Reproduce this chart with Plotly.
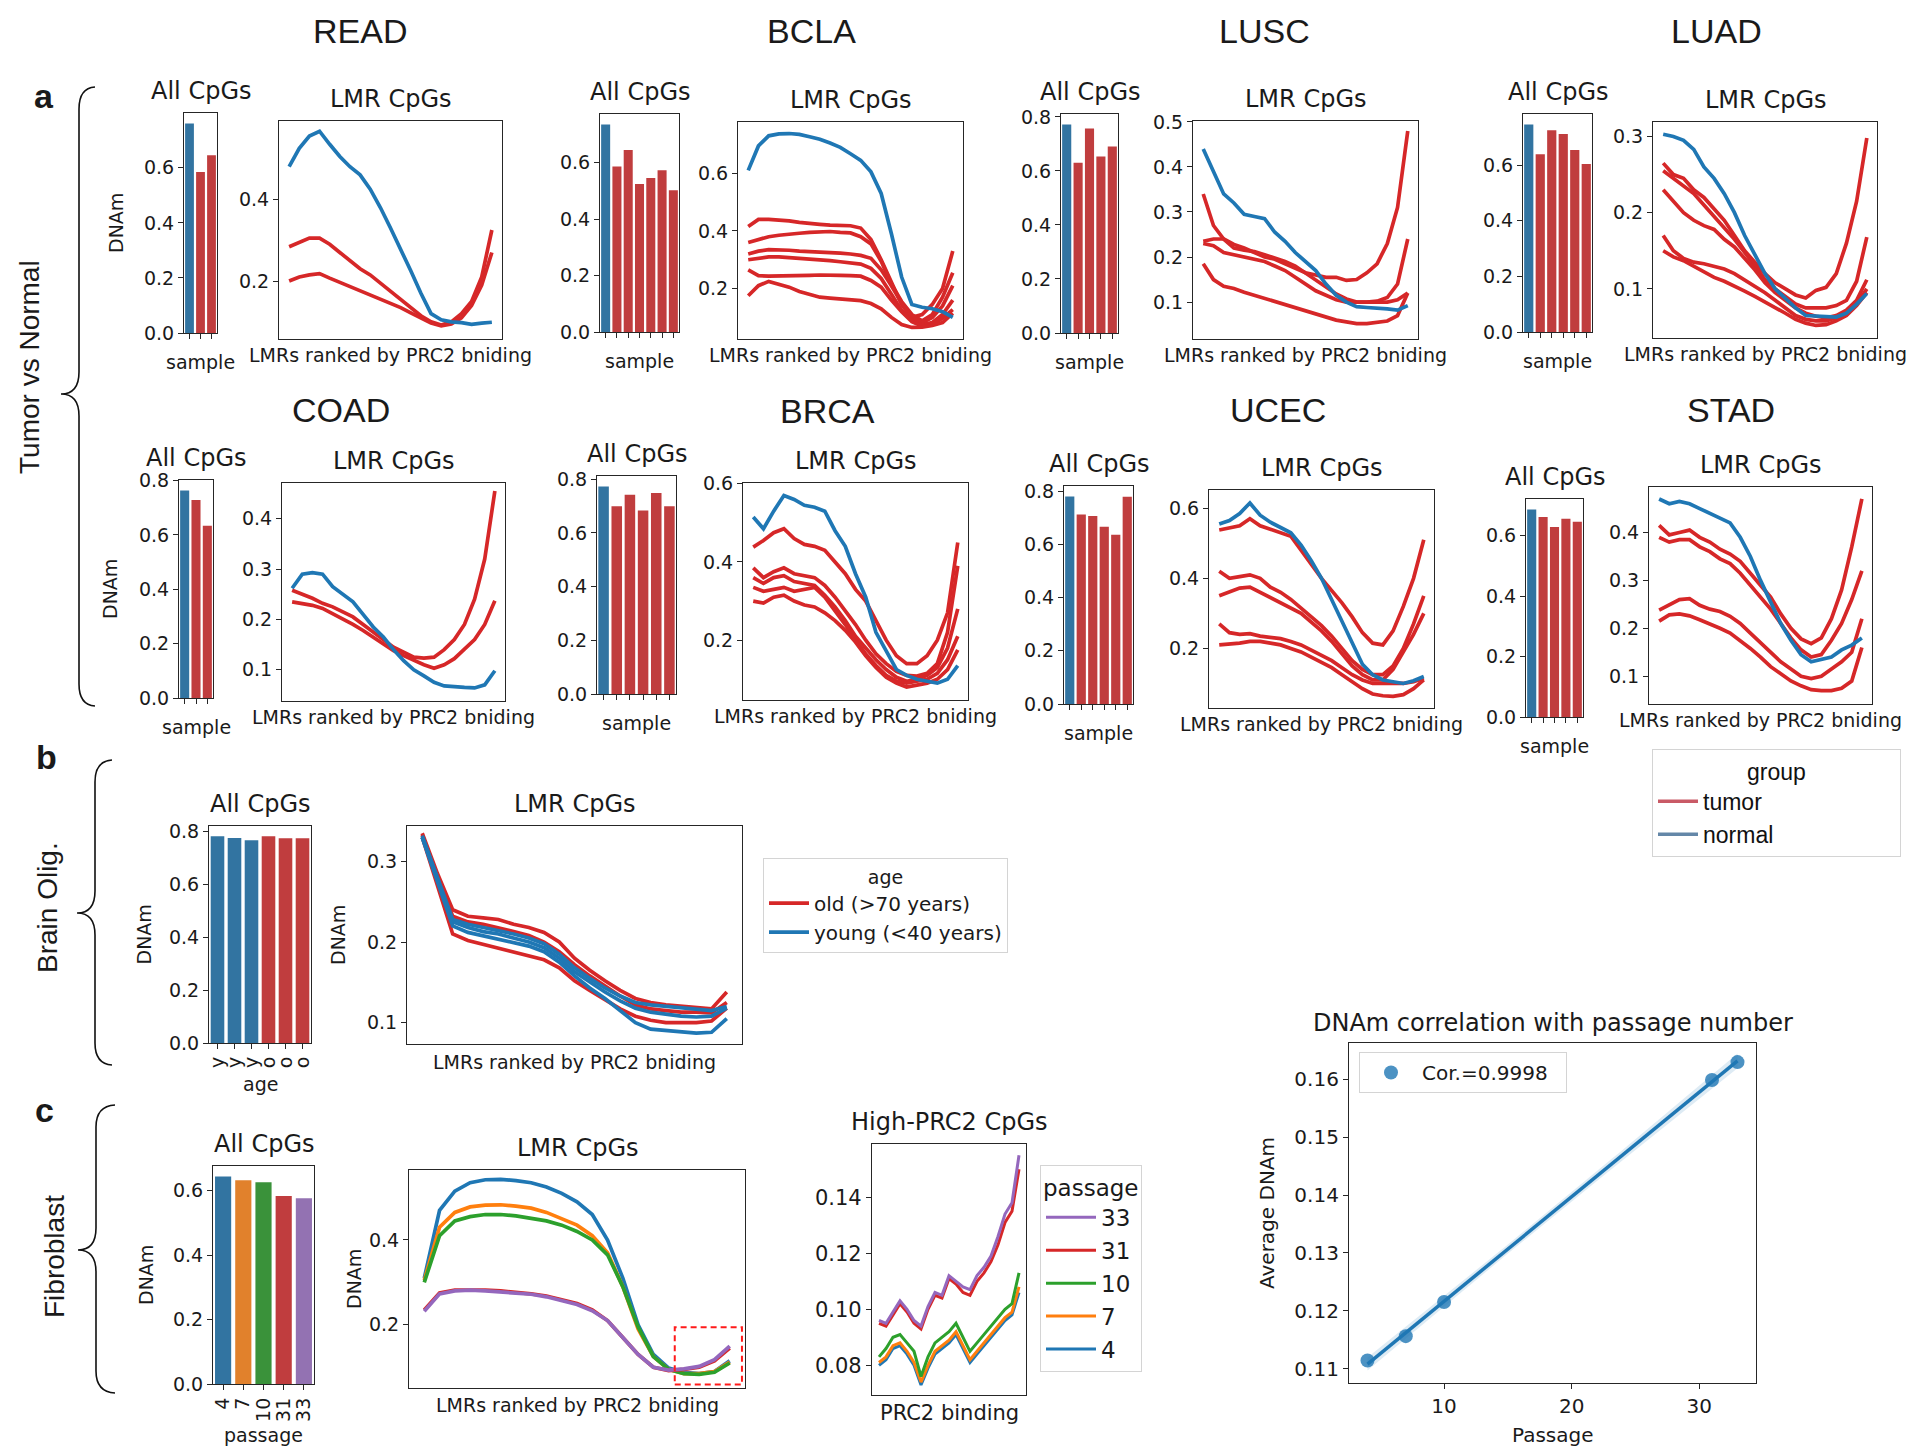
import numpy as np
import plotly.graph_objects as go

W, H = 1918, 1446
FONT = "DejaVu Sans"
ARIAL = "Liberation Sans, Arial, sans-serif"
TXT = "#1a1a1a"
LINE = "#262626"
RED_L, BLUE_L = "#d62728", "#1f77b4"
RED_B, BLUE_B = "#c03d3e", "#3274a1"
RED_LEG, BLUE_LEG = "#c95a66", "#6487a8"
FIB_L = ["#1f77b4", "#ff7f0e", "#2ca02c", "#d62728", "#9467bd"]
FIB_B = ["#3274a1", "#e1812c", "#3a923a", "#c03d3e", "#9372b2"]

# ---------------- data ----------------
LMR_X = [0, 5, 10, 15, 20, 25, 30, 35, 40, 45, 50, 55, 60, 65, 70, 75, 80, 85, 90, 95, 100]

READ_BAR = [0.761, 0.585, 0.646]
READ_NORMAL = [0.48, 0.525, 0.555, 0.567, 0.535, 0.505, 0.48, 0.46, 0.425, 0.38, 0.33, 0.28, 0.225, 0.17, 0.12, 0.105, 0.10, 0.098, 0.094, 0.097, 0.099]
READ_TUMOR = [
    [0.284, 0.295, 0.305, 0.305, 0.29, 0.27, 0.25, 0.23, 0.215, 0.195, 0.175, 0.155, 0.135, 0.115, 0.10, 0.092, 0.10, 0.12, 0.15, 0.21, 0.325],
    [0.20, 0.21, 0.215, 0.218, 0.207, 0.197, 0.187, 0.177, 0.167, 0.157, 0.145, 0.135, 0.122, 0.11, 0.097, 0.09, 0.095, 0.11, 0.14, 0.19, 0.27],
]

BCLA_BAR = [0.735, 0.586, 0.644, 0.524, 0.545, 0.573, 0.502]
BCLA_NORMAL = [0.61, 0.695, 0.73, 0.737, 0.738, 0.735, 0.727, 0.718, 0.705, 0.69, 0.668, 0.645, 0.605, 0.53, 0.39, 0.24, 0.145, 0.135, 0.13, 0.12, 0.10]
BCLA_TUMOR = [
    [0.415, 0.44, 0.44, 0.438, 0.435, 0.43, 0.425, 0.423, 0.42, 0.418, 0.418, 0.41, 0.37, 0.30, 0.22, 0.145, 0.10, 0.11, 0.145, 0.20, 0.33],
    [0.36, 0.37, 0.38, 0.385, 0.39, 0.392, 0.395, 0.397, 0.398, 0.395, 0.393, 0.38, 0.355, 0.295, 0.215, 0.155, 0.11, 0.088, 0.11, 0.17, 0.255],
    [0.32, 0.33, 0.335, 0.335, 0.333, 0.33, 0.329, 0.328, 0.326, 0.323, 0.32, 0.315, 0.305, 0.265, 0.21, 0.15, 0.10, 0.082, 0.10, 0.14, 0.21],
    [0.30, 0.305, 0.31, 0.31, 0.308, 0.305, 0.302, 0.30, 0.297, 0.293, 0.29, 0.285, 0.27, 0.235, 0.18, 0.125, 0.09, 0.075, 0.082, 0.11, 0.16],
    [0.265, 0.245, 0.243, 0.243, 0.243, 0.244, 0.246, 0.247, 0.248, 0.246, 0.245, 0.243, 0.228, 0.205, 0.16, 0.12, 0.085, 0.07, 0.075, 0.097, 0.127],
    [0.175, 0.21, 0.225, 0.215, 0.205, 0.19, 0.18, 0.17, 0.167, 0.165, 0.163, 0.158, 0.148, 0.13, 0.10, 0.075, 0.065, 0.066, 0.072, 0.082, 0.115],
]

LUSC_BAR = [0.772, 0.630, 0.757, 0.653, 0.690]
LUSC_NORMAL = [0.44, 0.39, 0.34, 0.32, 0.295, 0.29, 0.285, 0.255, 0.235, 0.21, 0.19, 0.17, 0.14, 0.115, 0.10, 0.09, 0.088, 0.087, 0.085, 0.082, 0.092]
LUSC_TUMOR = [
    [0.34, 0.27, 0.24, 0.228, 0.22, 0.21, 0.20, 0.195, 0.185, 0.175, 0.165, 0.16, 0.155, 0.155, 0.148, 0.15, 0.165, 0.185, 0.23, 0.31, 0.48],
    [0.235, 0.24, 0.24, 0.22, 0.215, 0.212, 0.205, 0.198, 0.19, 0.18, 0.165, 0.15, 0.135, 0.118, 0.107, 0.10, 0.10, 0.102, 0.11, 0.14, 0.24],
    [0.23, 0.225, 0.21, 0.205, 0.20, 0.195, 0.19, 0.18, 0.17, 0.155, 0.14, 0.125, 0.115, 0.105, 0.10, 0.10, 0.098, 0.10, 0.10, 0.105, 0.12],
    [0.185, 0.15, 0.135, 0.13, 0.122, 0.115, 0.108, 0.10, 0.093, 0.087, 0.08, 0.073, 0.067, 0.06, 0.056, 0.052, 0.052, 0.055, 0.058, 0.07, 0.12],
]

LUAD_BAR = [0.746, 0.639, 0.725, 0.711, 0.654, 0.604]
LUAD_NORMAL = [0.303, 0.30, 0.295, 0.283, 0.26, 0.245, 0.225, 0.20, 0.17, 0.145, 0.12, 0.10, 0.087, 0.075, 0.065, 0.064, 0.063, 0.063, 0.068, 0.08, 0.094]
LUAD_TUMOR = [
    [0.265, 0.25, 0.245, 0.23, 0.22, 0.205, 0.19, 0.17, 0.15, 0.135, 0.12, 0.108, 0.10, 0.092, 0.088, 0.098, 0.102, 0.12, 0.16, 0.215, 0.298],
    [0.255, 0.245, 0.235, 0.225, 0.21, 0.195, 0.18, 0.165, 0.148, 0.13, 0.112, 0.10, 0.09, 0.08, 0.075, 0.075, 0.075, 0.078, 0.085, 0.11, 0.168],
    [0.23, 0.215, 0.20, 0.19, 0.183, 0.178, 0.165, 0.155, 0.14, 0.125, 0.108, 0.095, 0.085, 0.075, 0.068, 0.064, 0.062, 0.065, 0.072, 0.085, 0.112],
    [0.17, 0.15, 0.14, 0.135, 0.133, 0.13, 0.126, 0.12, 0.112, 0.103, 0.095, 0.085, 0.075, 0.065, 0.06, 0.058, 0.058, 0.062, 0.07, 0.08, 0.10],
    [0.15, 0.142, 0.137, 0.13, 0.122, 0.115, 0.11, 0.104, 0.097, 0.09, 0.083, 0.075, 0.068, 0.06, 0.055, 0.052, 0.053, 0.058, 0.065, 0.078, 0.095],
]

COAD_BAR = [0.764, 0.729, 0.634]
COAD_NORMAL = [0.262, 0.29, 0.293, 0.29, 0.265, 0.25, 0.235, 0.21, 0.185, 0.165, 0.14, 0.118, 0.10, 0.088, 0.075, 0.068, 0.066, 0.065, 0.064, 0.07, 0.098]
COAD_TUMOR = [
    [0.258, 0.25, 0.242, 0.232, 0.225, 0.215, 0.205, 0.19, 0.175, 0.16, 0.145, 0.135, 0.125, 0.123, 0.125, 0.14, 0.16, 0.19, 0.24, 0.32, 0.455],
    [0.235, 0.232, 0.228, 0.222, 0.212, 0.20, 0.19, 0.178, 0.165, 0.15, 0.138, 0.128, 0.118, 0.11, 0.103, 0.11, 0.122, 0.14, 0.16, 0.19, 0.237],
]

BRCA_BAR = [0.773, 0.699, 0.742, 0.683, 0.748, 0.699]
BRCA_NORMAL = [0.515, 0.485, 0.53, 0.57, 0.56, 0.545, 0.54, 0.53, 0.48, 0.44, 0.37, 0.31, 0.22, 0.17, 0.125, 0.11, 0.10, 0.095, 0.09, 0.10, 0.135]
BRCA_TUMOR = [
    [0.438, 0.455, 0.475, 0.485, 0.46, 0.445, 0.44, 0.43, 0.40, 0.37, 0.33, 0.30, 0.25, 0.20, 0.16, 0.14, 0.14, 0.16, 0.20, 0.27, 0.45],
    [0.385, 0.36, 0.375, 0.385, 0.37, 0.365, 0.36, 0.34, 0.31, 0.275, 0.24, 0.20, 0.165, 0.14, 0.12, 0.11, 0.108, 0.115, 0.14, 0.22, 0.39],
    [0.36, 0.345, 0.36, 0.365, 0.35, 0.345, 0.34, 0.315, 0.285, 0.25, 0.21, 0.18, 0.15, 0.125, 0.105, 0.095, 0.10, 0.11, 0.13, 0.18, 0.28],
    [0.335, 0.325, 0.33, 0.335, 0.325, 0.33, 0.335, 0.31, 0.275, 0.24, 0.20, 0.165, 0.135, 0.11, 0.095, 0.09, 0.095, 0.10, 0.115, 0.15, 0.21],
    [0.30, 0.295, 0.31, 0.315, 0.30, 0.29, 0.285, 0.27, 0.25, 0.225, 0.195, 0.16, 0.13, 0.105, 0.09, 0.08, 0.085, 0.09, 0.10, 0.125, 0.175],
]

UCEC_BAR = [0.781, 0.713, 0.707, 0.667, 0.637, 0.780]
UCEC_NORMAL = [0.555, 0.565, 0.585, 0.615, 0.58, 0.56, 0.545, 0.53, 0.495, 0.45, 0.40, 0.34, 0.28, 0.215, 0.155, 0.125, 0.11, 0.105, 0.10, 0.108, 0.12]
UCEC_TUMOR = [
    [0.538, 0.545, 0.55, 0.57, 0.55, 0.54, 0.53, 0.52, 0.48, 0.44, 0.40, 0.365, 0.33, 0.29, 0.245, 0.215, 0.21, 0.25, 0.32, 0.40, 0.51],
    [0.42, 0.40, 0.405, 0.41, 0.40, 0.375, 0.36, 0.34, 0.315, 0.29, 0.265, 0.235, 0.20, 0.165, 0.14, 0.125, 0.125, 0.15, 0.20, 0.27, 0.35],
    [0.35, 0.36, 0.372, 0.375, 0.36, 0.345, 0.33, 0.315, 0.30, 0.275, 0.25, 0.22, 0.185, 0.15, 0.125, 0.11, 0.11, 0.14, 0.19, 0.24, 0.30],
    [0.27, 0.245, 0.24, 0.242, 0.235, 0.232, 0.228, 0.22, 0.21, 0.195, 0.18, 0.165, 0.145, 0.125, 0.11, 0.10, 0.10, 0.10, 0.10, 0.105, 0.115],
    [0.21, 0.212, 0.215, 0.22, 0.22, 0.215, 0.21, 0.20, 0.19, 0.175, 0.16, 0.145, 0.125, 0.105, 0.085, 0.07, 0.065, 0.063, 0.068, 0.085, 0.11],
]

STAD_BAR = [0.687, 0.662, 0.629, 0.656, 0.646]
STAD_NORMAL = [0.47, 0.46, 0.465, 0.46, 0.45, 0.44, 0.43, 0.42, 0.39, 0.35, 0.30, 0.255, 0.21, 0.175, 0.145, 0.13, 0.135, 0.14, 0.155, 0.165, 0.18]
STAD_TUMOR = [
    [0.415, 0.395, 0.40, 0.405, 0.39, 0.38, 0.365, 0.355, 0.34, 0.315, 0.29, 0.265, 0.23, 0.20, 0.178, 0.168, 0.18, 0.22, 0.28, 0.37, 0.47],
    [0.39, 0.38, 0.385, 0.385, 0.37, 0.36, 0.345, 0.335, 0.315, 0.29, 0.265, 0.24, 0.21, 0.18, 0.155, 0.14, 0.145, 0.175, 0.21, 0.26, 0.32],
    [0.238, 0.25, 0.26, 0.262, 0.248, 0.24, 0.235, 0.225, 0.21, 0.19, 0.17, 0.148, 0.13, 0.115, 0.10, 0.095, 0.10, 0.115, 0.13, 0.15, 0.22],
    [0.215, 0.228, 0.23, 0.226, 0.218, 0.21, 0.20, 0.19, 0.175, 0.158, 0.14, 0.12, 0.105, 0.09, 0.08, 0.072, 0.07, 0.07, 0.075, 0.09, 0.16],
]
GROUP_NAMES = ["tumor", "normal"]

# panel b: brain oligodendrocytes
BRAIN_AGE_TICKS = ["y", "y", "y", "o", "o", "o"]
BRAIN_BAR = [0.781, 0.775, 0.766, 0.781, 0.774, 0.774]
BRAIN_OLD = [
    [0.335, 0.285, 0.24, 0.232, 0.23, 0.228, 0.222, 0.218, 0.212, 0.20, 0.18, 0.165, 0.152, 0.14, 0.13, 0.125, 0.122, 0.12, 0.118, 0.117, 0.138],
    [0.333, 0.28, 0.232, 0.225, 0.222, 0.218, 0.213, 0.208, 0.20, 0.188, 0.172, 0.158, 0.145, 0.133, 0.122, 0.117, 0.115, 0.113, 0.113, 0.112, 0.125],
    [0.33, 0.27, 0.21, 0.202, 0.197, 0.192, 0.187, 0.183, 0.178, 0.168, 0.152, 0.14, 0.128, 0.117, 0.108, 0.103, 0.10, 0.10, 0.10, 0.102, 0.118],
]
BRAIN_YOUNG = [
    [0.332, 0.28, 0.228, 0.222, 0.218, 0.215, 0.21, 0.205, 0.198, 0.185, 0.168, 0.155, 0.143, 0.133, 0.125, 0.122, 0.12, 0.118, 0.116, 0.115, 0.12],
    [0.33, 0.278, 0.225, 0.218, 0.213, 0.21, 0.205, 0.20, 0.193, 0.18, 0.163, 0.15, 0.138, 0.127, 0.118, 0.113, 0.11, 0.108, 0.107, 0.108, 0.118],
    [0.33, 0.275, 0.22, 0.212, 0.208, 0.204, 0.199, 0.195, 0.188, 0.175, 0.158, 0.143, 0.13, 0.115, 0.10, 0.092, 0.09, 0.088, 0.087, 0.088, 0.105],
]

# panel c: fibroblast passages
PASSAGES = ["4", "7", "10", "31", "33"]
FIB_BAR = [0.644, 0.632, 0.626, 0.583, 0.576]
FIB_LMR = [
    [0.31, 0.47, 0.515, 0.535, 0.542, 0.543, 0.54, 0.535, 0.525, 0.51, 0.49, 0.46, 0.40, 0.31, 0.20, 0.13, 0.098, 0.088, 0.085, 0.09, 0.115],
    [0.305, 0.43, 0.465, 0.478, 0.482, 0.483, 0.48, 0.475, 0.465, 0.45, 0.435, 0.41, 0.37, 0.29, 0.19, 0.125, 0.095, 0.085, 0.085, 0.09, 0.112],
    [0.30, 0.41, 0.445, 0.455, 0.46, 0.46, 0.457, 0.452, 0.445, 0.435, 0.42, 0.40, 0.365, 0.29, 0.195, 0.125, 0.095, 0.085, 0.083, 0.088, 0.11],
    [0.235, 0.275, 0.282, 0.283, 0.282, 0.28, 0.277, 0.273, 0.268, 0.26, 0.25, 0.235, 0.21, 0.17, 0.13, 0.10, 0.092, 0.095, 0.10, 0.115, 0.145],
    [0.232, 0.273, 0.28, 0.282, 0.28, 0.278, 0.275, 0.272, 0.266, 0.258, 0.248, 0.233, 0.21, 0.17, 0.13, 0.10, 0.093, 0.096, 0.102, 0.118, 0.15],
]
FIB_HIGH = [
    [0.08, 0.082, 0.086, 0.087, 0.084, 0.08, 0.073, 0.079, 0.084, 0.086, 0.088, 0.091, 0.086, 0.081, 0.084, 0.087, 0.09, 0.093, 0.096, 0.098, 0.106],
    [0.081, 0.083, 0.087, 0.088, 0.085, 0.081, 0.074, 0.08, 0.085, 0.087, 0.089, 0.092, 0.087, 0.082, 0.085, 0.088, 0.091, 0.094, 0.097, 0.099, 0.108],
    [0.083, 0.086, 0.09, 0.091, 0.088, 0.085, 0.076, 0.083, 0.088, 0.09, 0.092, 0.095, 0.09, 0.085, 0.088, 0.091, 0.094, 0.097, 0.10, 0.102, 0.113],
    [0.095, 0.094, 0.098, 0.102, 0.099, 0.095, 0.093, 0.10, 0.105, 0.104, 0.111, 0.109, 0.106, 0.105, 0.11, 0.113, 0.117, 0.123, 0.131, 0.135, 0.15],
    [0.096, 0.095, 0.099, 0.103, 0.10, 0.096, 0.094, 0.101, 0.106, 0.105, 0.112, 0.11, 0.108, 0.107, 0.112, 0.115, 0.119, 0.126, 0.134, 0.138, 0.155],
]
PASSAGE_NUM = [4, 7, 10, 31, 33]
AVG_DNAM = [0.1114, 0.1156, 0.1215, 0.1599, 0.1630]
COR_LABEL = "Cor.=0.9998"

# ---------------- figure helpers ----------------
fig = go.Figure()
_ax = [0]


def px_x(v):
    return v / W


def px_y(v):
    return 1 - v / H


def new_axes(box, xr, yr, xkw=None, ykw=None, tsize=19):
    _ax[0] += 1
    n = _ax[0]
    sx = "" if n == 1 else str(n)
    x0, x1, y0, y1 = box
    base = dict(showline=True, mirror=True, linecolor=LINE, linewidth=1.2,
                showgrid=False, zeroline=False, ticks="outside", ticklen=5,
                tickwidth=1.2, tickcolor=LINE, fixedrange=True, automargin=False,
                tickfont=dict(family=FONT, size=tsize, color=TXT))
    xa = dict(base, domain=[px_x(x0), px_x(x1)], range=xr, anchor="y" + sx)
    ya = dict(base, domain=[px_y(y1), px_y(y0)], range=yr, anchor="x" + sx)
    if xkw:
        xa.update(xkw)
    if ykw:
        ya.update(ykw)
    fig.update_layout({"xaxis" + sx: xa, "yaxis" + sx: ya})
    return "x" + sx, "y" + sx


def text(x, y, s, size, family=FONT, angle=0, xanchor="center", yanchor="middle", color=TXT):
    fig.add_annotation(x=px_x(x), y=px_y(y), xref="paper", yref="paper", text=s,
                       showarrow=False, textangle=angle, xanchor=xanchor, yanchor=yanchor,
                       font=dict(family=family, size=size, color=color))


def bar_panel(box, vals, colors, ticktext=None, xlabel=None, xlabel_dy=29, ylabel_x=None, tsize=19):
    n = len(vals)
    xkw = dict(tickmode="array", tickvals=list(range(n)),
               ticktext=ticktext if ticktext else [""] * n,
               tickangle=-90 if ticktext else 0)
    ykw = dict(tick0=0, dtick=0.2, tickformat=".1f")
    xa, ya = new_axes(box, [-0.5, n - 0.5], [0, max(vals) * 1.05], xkw, ykw, tsize)
    fig.add_trace(go.Bar(x=list(range(n)), y=vals, marker=dict(color=colors, line=dict(width=0)),
                         width=0.8, xaxis=xa, yaxis=ya, showlegend=False, hoverinfo="skip"))
    x0, x1, y0, y1 = box
    text((x0 + x1) / 2, y0 - 22, "All CpGs", 24)
    if xlabel:
        text((x0 + x1) / 2, y1 + xlabel_dy, xlabel, 19)
    if ylabel_x is not None:
        text(ylabel_x, (y0 + y1) / 2, "DNAm", 19, angle=-90)
    return xa, ya


def lmr_axes(box, yr, dtick, fmt=".1f", title="LMR CpGs", xlabel="LMRs ranked by PRC2 bniding",
             xlabel_dy=16, ylabel_x=None, tsize=19, title_size=24, xlabel_size=19):
    xkw = dict(showticklabels=False, ticks="")
    ykw = dict(dtick=dtick, tick0=0, tickformat=fmt)
    xa, ya = new_axes(box, [-5, 105], yr, xkw, ykw, tsize)
    x0, x1, y0, y1 = box
    text((x0 + x1) / 2, y0 - 22, title, title_size)
    text((x0 + x1) / 2, y1 + xlabel_dy, xlabel, xlabel_size)
    if ylabel_x is not None:
        text(ylabel_x, (y0 + y1) / 2, "DNAm", 19, angle=-90)
    return xa, ya


def line(xa, ya, ys, color, name=None, legend=None, width=3.7):
    fig.add_trace(go.Scatter(x=LMR_X, y=ys, mode="lines", line=dict(color=color, width=width),
                             xaxis=xa, yaxis=ya, hoverinfo="skip",
                             name=name, showlegend=name is not None, legend=legend))


# ---------------- panel a: tumor vs normal ----------------
CANCERS = [
    ("READ", READ_BAR, READ_NORMAL, READ_TUMOR, (184, 217, 113, 333), (279, 502, 121, 339), [0.058, 0.592], 0.2, (360, 31), 116),
    ("BCLA", BCLA_BAR, BCLA_NORMAL, BCLA_TUMOR, (600, 679, 114, 332), (738, 963, 122, 339), [0.025, 0.778], 0.2, (811, 31), None),
    ("LUSC", LUSC_BAR, LUSC_NORMAL, LUSC_TUMOR, (1061, 1118, 114, 333), (1193, 1418, 121, 339), [0.018, 0.502], 0.1, (1264, 31), None),
    ("LUAD", LUAD_BAR, LUAD_NORMAL, LUAD_TUMOR, (1523, 1592, 114, 332), (1653, 1877, 122, 338), [0.0355, 0.319], 0.1, (1716, 31), None),
    ("COAD", COAD_BAR, COAD_NORMAL, COAD_TUMOR, (179, 213, 480, 698), (282, 505, 483, 701), [0.038, 0.471], 0.1, (341, 410), 110),
    ("BRCA", BRCA_BAR, BRCA_NORMAL, BRCA_TUMOR, (597, 676, 476, 694), (743, 968, 483, 700), [0.047, 0.602], 0.2, (827, 411), None),
    ("UCEC", UCEC_BAR, UCEC_NORMAL, UCEC_TUMOR, (1064, 1133, 486, 704), (1209, 1434, 490, 708), [0.03, 0.652], 0.2, (1278, 410), None),
    ("STAD", STAD_BAR, STAD_NORMAL, STAD_TUMOR, (1526, 1583, 499, 717), (1649, 1872, 487, 704), [0.042, 0.495], 0.1, (1731, 410), None),
]

leg_axes = None
for name, bars, normal, tumors, bbox, lbox, yr, dt, tpos, ylab in CANCERS:
    text(tpos[0], tpos[1], name, 34, family=ARIAL)
    cols = [BLUE_B] + [RED_B] * (len(bars) - 1)
    bar_panel(bbox, bars, cols, xlabel="sample", ylabel_x=ylab)
    xa, ya = lmr_axes(lbox, yr, dt)
    for t in tumors:
        line(xa, ya, t, RED_L)
    line(xa, ya, normal, BLUE_L)
    leg_axes = (xa, ya)

# legend entries for the tumor / normal groups (drawn only in the legend)
PAD = "&nbsp;" * 19
for nm, col in zip(GROUP_NAMES, [RED_LEG, BLUE_LEG]):
    fig.add_trace(go.Scatter(x=[None], y=[None], mode="lines", line=dict(color=col, width=3.5),
                             name=nm + (PAD if nm == "normal" else ""), legend="legend",
                             xaxis=leg_axes[0], yaxis=leg_axes[1], hoverinfo="skip"))

# ---------------- panel b: brain ----------------
bar_panel((209, 311, 826, 1043), BRAIN_BAR, [BLUE_B] * 3 + [RED_B] * 3,
          ticktext=BRAIN_AGE_TICKS, xlabel="age", xlabel_dy=41, ylabel_x=143)
xa, ya = lmr_axes((407, 742, 826, 1044), [0.0735, 0.344], 0.1, xlabel_dy=18, ylabel_x=338)
for i, t in enumerate(BRAIN_OLD):
    line(xa, ya, t, RED_L, name="old (&gt;70 years)" if i == 0 else None, legend="legend2")
for i, t in enumerate(BRAIN_YOUNG):
    line(xa, ya, t, BLUE_L, name="young (&lt;40 years)" if i == 0 else None, legend="legend2")

# ---------------- panel c: fibroblast ----------------
bar_panel((213, 314, 1166, 1384), FIB_BAR, FIB_B, ticktext=PASSAGES, xlabel="passage",
          xlabel_dy=51, ylabel_x=146)
xa, ya = lmr_axes((409, 745, 1170, 1388), [0.051, 0.565], 0.2, xlabel_dy=17, ylabel_x=354)
for t, c in zip(FIB_LMR, FIB_L):
    line(xa, ya, t, c)
fig.add_shape(type="rect", xref=xa, yref=ya, x0=82, x1=104, y0=0.059, y1=0.1945,
              line=dict(color="#ff1a1a", width=2, dash="6px,4px"))

xa, ya = lmr_axes((872, 1026, 1144, 1395), [0.0694, 0.159], 0.02, fmt=".2f",
                  title="High-PRC2 CpGs", xlabel="PRC2 binding", xlabel_dy=18,
                  tsize=21, title_size=24, xlabel_size=21)
for t, c, p in zip(FIB_HIGH, FIB_L, PASSAGES):
    line(xa, ya, t, c, name=p, legend="legend3", width=3)

# correlation panel
cbox = (1349, 1756, 1043, 1383)
xa, ya = new_axes(cbox, [2.55, 34.45], [0.1075, 0.1663],
                  dict(tickmode="array", tickvals=[10, 20, 30]),
                  dict(dtick=0.01, tick0=0, tickformat=".2f"), tsize=20)
xs = np.array(PASSAGE_NUM, float)
ys = np.array(AVG_DNAM, float)
slope, icpt = np.polyfit(xs, ys, 1)
grid = np.linspace(xs.min(), xs.max(), 60)
fit = icpt + slope * grid
resid = ys - (icpt + slope * xs)
s_err = np.sqrt((resid ** 2).sum() / (len(xs) - 2))
se = s_err * np.sqrt(1 / len(xs) + (grid - xs.mean()) ** 2 / ((xs - xs.mean()) ** 2).sum())
T95 = 3.182
fig.add_trace(go.Scatter(x=grid, y=fit - T95 * se, mode="lines", line=dict(width=0),
                         xaxis=xa, yaxis=ya, showlegend=False, hoverinfo="skip"))
fig.add_trace(go.Scatter(x=grid, y=fit + T95 * se, mode="lines", line=dict(width=0),
                         fill="tonexty", fillcolor="rgba(31,119,180,0.15)",
                         xaxis=xa, yaxis=ya, showlegend=False, hoverinfo="skip"))
fig.add_trace(go.Scatter(x=grid, y=fit, mode="lines", line=dict(color=BLUE_L, width=3.5),
                         xaxis=xa, yaxis=ya, showlegend=False, hoverinfo="skip"))
fig.add_trace(go.Scatter(x=xs, y=ys, mode="markers", name=COR_LABEL + "&nbsp;" * 2, legend="legend4",
                         marker=dict(color="rgba(31,119,180,0.8)", size=14),
                         xaxis=xa, yaxis=ya, hoverinfo="skip"))
text(1553, 1023, "DNAm correlation with passage number", 24)
text(1553, 1435, "Passage", 20)
text(1267, 1213, "Average DNAm", 20, angle=-90)

# ---------------- left labels and braces ----------------
text(44, 96, "<b>a</b>", 34, family=ARIAL)
text(46, 757, "<b>b</b>", 34, family=ARIAL)
text(44, 1110, "<b>c</b>", 34, family=ARIAL)
text(29, 367, "Tumor vs Normal", 28, family=ARIAL, angle=-90)
text(47, 908, "Brain Olig.", 28, family=ARIAL, angle=-90)
text(54, 1257, "Fibroblast", 28, family=ARIAL, angle=-90)


def brace(xe, xv, xt, ytop, ymid, ybot, r=22):
    pts = [
        ("M", (xe, ytop)), ("Q", (xv, ytop + 1), (xv, ytop + r)),
        ("L", (xv, ymid - r)), ("Q", (xv, ymid), (xt, ymid)),
        ("Q", (xv, ymid), (xv, ymid + r)), ("L", (xv, ybot - r)),
        ("Q", (xv, ybot - 1), (xe, ybot)),
    ]
    parts = []
    for p in pts:
        coords = " ".join(f"{px_x(a):.5f},{px_y(b):.5f}" for a, b in p[1:])
        parts.append(f"{p[0]} {coords}")
    fig.add_shape(type="path", xref="paper", yref="paper", path=" ".join(parts),
                  line=dict(color="#111111", width=1.6))


brace(95, 79, 61, 87, 394, 706)
brace(112, 95, 77, 760, 913, 1065)
brace(115, 96, 78, 1105, 1250, 1393)

# ---------------- legends ----------------
leg_common = dict(xanchor="left", yanchor="top", bgcolor="rgba(255,255,255,0.9)",
                  bordercolor="#d4d4d4", borderwidth=1)
fig.update_layout(
    legend=dict(leg_common, x=px_x(1652), y=px_y(749), itemwidth=40, traceorder="normal",
                font=dict(family=ARIAL, size=23, color="#111111"),
                title=dict(text="group", side="top center", font=dict(family=ARIAL, size=23, color="#111111"))),
    legend2=dict(leg_common, x=px_x(763), y=px_y(858), itemwidth=40, traceorder="normal",
                 font=dict(family=FONT, size=20, color=TXT),
                 title=dict(text="age", side="top center", font=dict(family=FONT, size=19, color=TXT))),
    legend3=dict(leg_common, x=px_x(1040), y=px_y(1165), itemwidth=50, traceorder="reversed",
                 font=dict(family=FONT, size=23, color=TXT),
                 title=dict(text="passage", side="top", font=dict(family=FONT, size=23, color=TXT))),
    legend4=dict(leg_common, x=px_x(1359), y=px_y(1052), itemwidth=52, traceorder="normal",
                 font=dict(family=FONT, size=20, color=TXT)),
)

fig.update_layout(width=W, height=H, margin=dict(l=0, r=0, t=0, b=0, autoexpand=False),
                  paper_bgcolor="white", plot_bgcolor="white", showlegend=True,
                  bargap=0.2)

fig.write_html("out.html", config={"displayModeBar": False},
               post_script="document.body.style.margin='0px';")
